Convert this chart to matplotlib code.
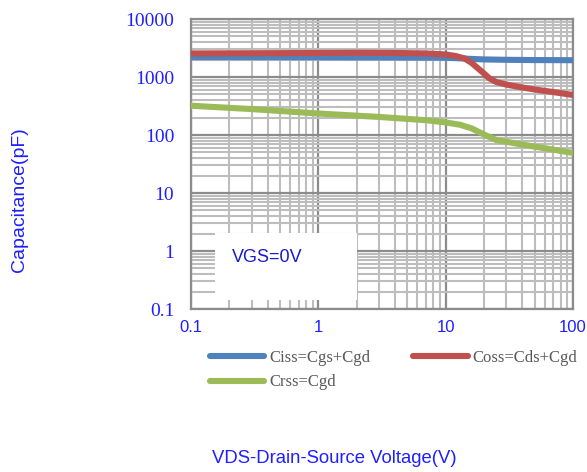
import matplotlib.pyplot as plt
from matplotlib.patches import Rectangle
from matplotlib.ticker import FixedLocator, LogLocator, NullFormatter

# 数据
vds_ciss = [0.1, 0.3, 1, 3, 10, 13, 16, 20, 30, 50, 100]
ciss = [2200, 2200, 2190, 2180, 2150, 2100, 2050, 2010, 1980, 1960, 1950]

vds_coss = [0.1, 0.5, 1, 2, 4, 7, 10, 12, 14, 16, 18, 20, 22, 25, 30, 40, 50, 70, 100]
coss = [2550, 2580, 2600, 2620, 2600, 2550, 2450, 2300, 2100, 1750, 1400, 1150, 950, 820, 740, 660, 610, 550, 490]

vds_crss = [0.1, 0.3, 1, 3, 7, 10, 13, 16, 20, 25, 35, 50, 70, 100]
crss = [320, 280, 235, 205, 180, 165, 150, 130, 102, 82, 72, 63, 56, 49]

x_ticks = [0.1, 1, 10, 100]
x_labels = ["0.1", "1", "10", "100"]
y_ticks = [0.1, 1, 10, 100, 1000, 10000]
y_labels = ["0.1", "1", "10", "100", "1000", "10000"]

blue_txt = "#1f1fff"

fig = plt.figure(figsize=(5.87, 4.72), dpi=100)
ax = fig.add_axes([0.3254, 0.3453, 0.6508, 0.6144])

ax.set_xscale("log")
ax.set_yscale("log")
ax.set_xlim(0.1, 100)
ax.set_ylim(0.1, 10000)

# 网格
ax.xaxis.set_major_locator(FixedLocator(x_ticks))
ax.yaxis.set_major_locator(FixedLocator(y_ticks))
ax.xaxis.set_minor_locator(LogLocator(base=10, subs=range(2, 10)))
ax.yaxis.set_minor_locator(LogLocator(base=10, subs=range(2, 10)))
ax.xaxis.set_minor_formatter(NullFormatter())
ax.yaxis.set_minor_formatter(NullFormatter())
ax.grid(which="minor", color="#bdbdbd", linewidth=1.5, zorder=0)
ax.grid(which="major", color="#8c8c8c", linewidth=1.6, zorder=0)
ax.set_axisbelow(True)
ax.tick_params(which="both", length=0)
for s in ax.spines.values():
    s.set_color("#8c8c8c")
    s.set_linewidth(1.6)

ax.set_xticklabels(x_labels, fontsize=12, color=blue_txt, family="Liberation Sans")
ax.set_yticklabels(y_labels, fontsize=14, color=blue_txt, family="Liberation Serif")
ax.tick_params(axis="x", pad=8)
ax.tick_params(axis="y", pad=12)

# 曲线
l1, = ax.plot(vds_ciss, ciss, color="#4f81bd", linewidth=4.4, solid_capstyle="round", label="Ciss=Cgs+Cgd", zorder=3)
l2, = ax.plot(vds_coss, coss, color="#c0504d", linewidth=4.4, solid_capstyle="round", solid_joinstyle="round", label="Coss=Cds+Cgd", zorder=3)
l3, = ax.plot(vds_crss, crss, color="#9bbb59", linewidth=4.4, solid_capstyle="round", solid_joinstyle="round", label="Crss=Cgd", zorder=3)

# VGS=0V 文本框
ax.add_patch(Rectangle((0.063, 0.031), 0.372, 0.231, transform=ax.transAxes,
                       facecolor="white", edgecolor="none", zorder=2))
ax.text(0.20, 0.177, "VGS=0V", transform=ax.transAxes, fontsize=13,
        color="#1a1acc", family="Liberation Sans", ha="center", va="center", zorder=4)

# 图例（按行排列：Ciss, Coss / Crss）
leg = fig.legend([l1, l3, l2], ["Ciss=Cgs+Cgd", "Crss=Cgd", "Coss=Cds+Cgd"],
                 loc="upper left", bbox_to_anchor=(0.332, 0.29), ncol=2, frameon=False,
                 prop={"family": "Liberation Serif", "size": 12}, handlelength=3.25,
                 columnspacing=2.6, handletextpad=0.3, labelspacing=0.5)
for t in leg.get_texts():
    t.set_color("#595959")

fig.text(0.034, 0.578, "Capacitance(pF)", rotation=90, fontsize=14, color=blue_txt,
         family="Liberation Sans", ha="center", va="center")
fig.text(0.569, 0.029, "VDS-Drain-Source Voltage(V)", fontsize=13.3, color=blue_txt,
         family="Liberation Sans", ha="center", va="center")

fig.savefig("out.png", dpi=100)
